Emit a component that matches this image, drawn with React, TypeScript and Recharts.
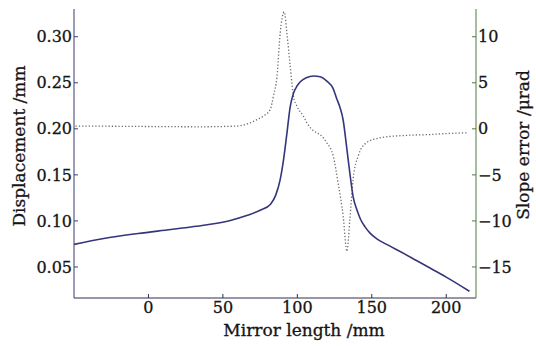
import { Line, LineChart, XAxis, YAxis } from "recharts";

// displacement (left axis, mm) vs mirror length
const dispX = [
  -50, -30, -7, 15, 37, 55, 66, 75, 82, 85.5, 88.4, 90.7, 93, 95.2, 97.4, 100,
  102, 106, 111, 115.3, 120, 124, 126.4, 128.5, 130.8, 133.1, 135.3, 137.5,
  140, 142.5, 145.5, 149, 153.2, 160, 170, 180, 190, 200, 215.6,
];
const dispY = [
  0.0745, 0.0809, 0.0863, 0.0907, 0.0953, 0.1005, 0.1058, 0.1115, 0.1182,
  0.128, 0.1442, 0.166, 0.195, 0.2239, 0.2385, 0.247, 0.2511, 0.2555, 0.2573,
  0.2565, 0.2515, 0.244, 0.233, 0.2239, 0.2093, 0.1804, 0.1515, 0.1261, 0.112,
  0.1015, 0.0935, 0.0865, 0.0808, 0.0745, 0.066, 0.057, 0.048, 0.039, 0.0236,
];

// slope error (right axis, µrad)
const slopeX = [
  -49, -25, 1.5, 35, 59.5, 68.4, 72.9, 77.3, 81.8, 84, 86.3, 88.5, 91.2, 93,
  95.2, 97.4, 99.7, 104.1, 106.4, 113, 115.3, 119.7, 124.2, 127.5, 130.8,
  133.3, 135.3, 137.5, 140.9, 146.5, 155.4, 171, 188.8, 202.2, 214.3,
];
const slopeY = [
  0.3, 0.28, 0.25, 0.22, 0.3, 0.65, 1.0, 1.4, 2.1, 3.6, 5.6, 10.4, 12.7, 10.4,
  6.8, 3.55, 2.46, 1.37, 0.65, -0.43, -0.62, -1.5, -3.0, -6.0, -9.5, -13.3,
  -9.8, -5.4, -2.95, -1.5, -0.98, -0.73, -0.62, -0.5, -0.43,
];

const xTicks = [0, 50, 100, 150, 200];
const leftTicks = [0.05, 0.1, 0.15, 0.2, 0.25, 0.3];
const rightTicks = [-15, -10, -5, 0, 5, 10];

const dispData = dispX.map((x, i) => ({ x, disp: dispY[i] }));
const slopeData = slopeX.map((x, i) => ({ x, slope: slopeY[i] }));

const FONT = "'DejaVu Serif', serif";
const INK = "#141414";
const tickStyle = {
  fontFamily: FONT,
  fontSize: 16,
  fill: INK,
  stroke: INK,
  strokeWidth: 0.3,
};

const minus = (v: number) => String(v).replace("-", "\u2212");

// recharts clones label elements with its own x/y/angle, so use other prop names
function Title({ px, py, rot, txt }: { px: number; py: number; rot: number; txt: string }) {
  return (
    <text
      x={px}
      y={py}
      transform={rot ? `rotate(${rot} ${px} ${py})` : undefined}
      textAnchor="middle"
      fontFamily={FONT}
      fontSize={17}
      fill={INK}
      stroke={INK}
      strokeWidth={0.3}
      dominantBaseline="middle"
    >
      {txt}
    </text>
  );
}

export default function App() {
  return (
    <div
      style={{
        position: "absolute",
        left: 0,
        top: 0,
        width: 536,
        height: 346,
        background: "#fff",
      }}
    >
      <LineChart
        width={536}
        height={346}
        margin={{ top: 9, right: 0, bottom: 0, left: 0 }}
      >
        <XAxis
          xAxisId="b"
          dataKey="x"
          type="number"
          domain={[-50, 220]}
          allowDataOverflow
          ticks={xTicks}
          height={48}
          tickSize={-4}
          tickMargin={8}
          stroke="#2e2e4a"
          tick={tickStyle}
          label={<Title px={304} py={331} rot={0} txt="Mirror length /mm" />}
        />
        <XAxis
          xAxisId="t"
          orientation="top"
          dataKey="x"
          type="number"
          domain={[-50, 220]}
          height={0}
          tick={false}
          tickLine={false}
          stroke="#222"
        />
        <YAxis
          yAxisId="l"
          type="number"
          domain={[0.0163, 0.3301]}
          allowDataOverflow
          ticks={leftTicks}
          width={74}
          tickSize={-4}
          tickMargin={6}
          stroke="#3b3b73"
          tick={tickStyle}
          tickFormatter={(v: number) => v.toFixed(2)}
          label={<Title px={20} py={146} rot={-90} txt="Displacement /mm" />}
        />
        <YAxis
          yAxisId="r"
          orientation="right"
          type="number"
          domain={[-18.37, 13.01]}
          allowDataOverflow
          ticks={rightTicks}
          width={60}
          tickSize={-4}
          tickMargin={6}
          stroke="#4d7a3d"
          tick={tickStyle}
          tickFormatter={minus}
          label={<Title px={524} py={145} rot={-90} txt="Slope error /μrad" />}
        />
        <Line
          data={slopeData}
          xAxisId="b"
          yAxisId="r"
          dataKey="slope"
          type="monotone"
          stroke="#6e6e6e"
          strokeWidth={1.3}
          strokeDasharray="1.3 2"
          dot={false}
          isAnimationActive={false}
        />
        <Line
          data={dispData}
          xAxisId="b"
          yAxisId="l"
          dataKey="disp"
          type="monotone"
          stroke="#35357a"
          strokeWidth={1.6}
          dot={false}
          isAnimationActive={false}
        />
      </LineChart>
    </div>
  );
}
